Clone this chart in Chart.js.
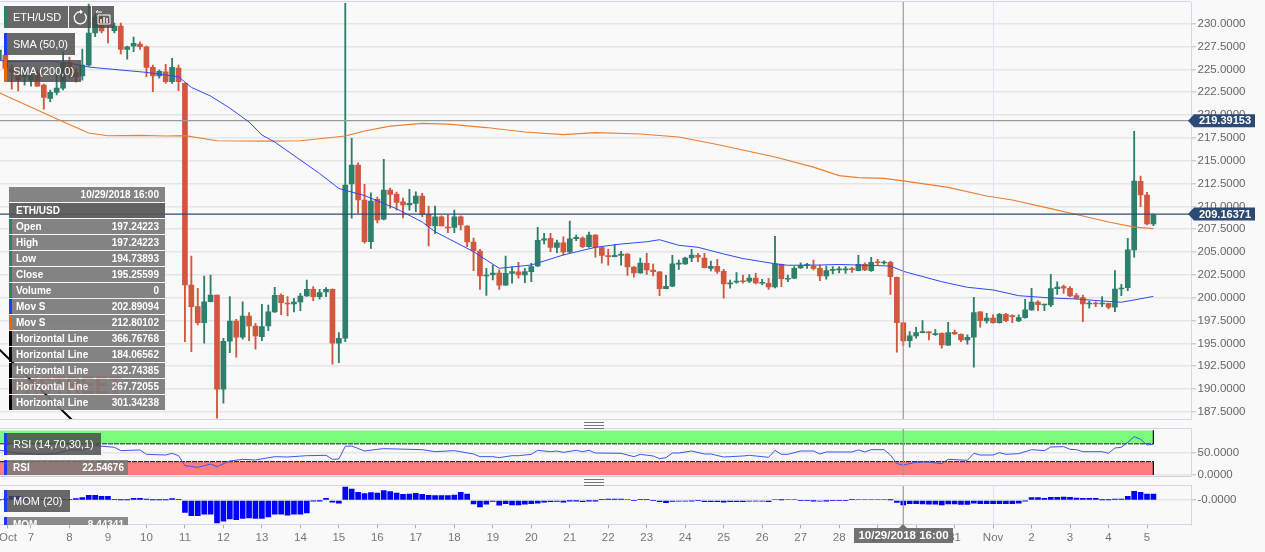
<!DOCTYPE html>
<html>
<head>
<meta charset="utf-8">
<title>ETH/USD</title>
<script src="https://cdn.jsdelivr.net/npm/chart.js@4/dist/chart.umd.min.js"></script>
<style>
  html, body { margin: 0; padding: 0; background: #f9f9f9; overflow: hidden; }
  #wrap { position: relative; width: 1265px; height: 552px; font-family: "Liberation Sans", Arial, sans-serif; color: #fff; }
  canvas { position: absolute; left: 0; }
  .rule { position: absolute; left: 0; width: 1191px; height: 1px; background: #d3d6ea; }
  .grip { position: absolute; left: 584px; width: 20px; height: 5px; border-top: 1px solid #777; border-bottom: 1px solid #777; }
  .grip:after { content: ""; position: absolute; left: 0; right: 0; top: 2px; height: 1px; background: #777; }
  .box { position: absolute; box-sizing: border-box; background: rgba(72,72,72,.82); font-size: 11px; white-space: nowrap; overflow: hidden; border-left: 3px solid #1a3cff; padding-left: 6px; }
  .row { position: absolute; left: 9px; width: 156px; height: 15px; box-sizing: border-box; line-height: 15px; font-size: 10px; font-weight: bold; background: rgba(120,120,120,.92); border-left: 3px solid #2f8069; padding: 0 6px 0 4px; }
  .row b { float: right; }
</style>
</head>
<body>
<div id="wrap">
  <canvas id="mainChart" width="1265" height="420" style="top:0"></canvas>
  <canvas id="rsiChart" width="1265" height="60" style="top:428px"></canvas>
  <canvas id="momChart" width="1265" height="67" style="top:485px"></canvas>
  <div class="rule" style="top:1px"></div>
  <div class="rule" style="top:419px"></div>
  <div class="rule" style="top:428px"></div>
  <div class="rule" style="top:476px;background:#cfcfd6"></div>
  <div class="rule" style="top:485px"></div>
  <div class="rule" style="top:524px"></div>
  <div class="grip" style="top:422px"></div>
  <div class="grip" style="top:479px"></div>
  <div id="overlay"></div>
</div>
<script>
// candles: 4 hour bars, first one sits 5 bars before Oct 7 00:00
const firstBar = -5;
const opens = [
  226.03,226.58,225.15,224.39,224.17,223.84,224.61,223.29,221.84,222.49,
  222.96,225.7,224.72,224.28,225.48,228.99,230.74,230.19,229.24,229.75,
  227.2,227.56,227.78,227.49,225.23,224.28,224.75,223.65,225.15,223.48,
  201.39,199.02,197.26,199.56,200.3,189.97,195.23,197.45,195.67,197.99,
  196.9,195.73,196.9,198.44,200.26,199.39,199.31,199.53,200.19,200.92,
  200.11,200.63,200.92,195.01,195.56,212.45,214.53,210.7,206.13,210.78,
  208.59,211.79,211.36,210.51,210.15,210.34,211.14,209.13,207.85,208.87,
  207.74,207.71,208.87,207.85,206.1,205.12,202.38,202.52,202.71,201.36,
  202.67,202.82,202.49,202.85,203.47,206.29,206.51,205.52,206.02,205.01,
  206.46,206.54,205.59,206.87,205.48,204.6,204.49,204.64,204.79,203.36,
  202.71,203.77,203.03,202.82,200.99,201.25,203.66,203.69,204.35,204.64,
  204.35,203.22,203.44,202.89,201.5,201.69,201.83,201.8,202.16,201.58,
  201.58,201.17,203.66,202.02,202.13,203.25,203.51,203.47,203.22,202.38,
  203.0,203.04,203.04,203.14,202.96,203.66,202.96,203.94,203.8,203.88,
  202.24,197.24,195.29,195.81,196.17,196.25,195.95,196.1,194.79,196.21,
  196.0,195.37,195.67,198.44,197.45,197.78,197.26,198.18,198.0,197.45,
  197.81,198.66,199.53,199.2,199.2,200.99,201.21,201.03,200.22,200.0,
  199.31,199.39,199.31,199.39,198.95,200.95,201.1,205.23,212.75,211.25,208.07
];
const closes = [
  227.13,225.12,224.72,223.84,224.39,224.39,223.18,221.95,222.49,222.96,
  225.7,224.61,224.17,225.48,228.99,230.74,229.21,229.86,229.75,227.2,
  227.49,227.86,227.49,225.23,224.28,224.79,223.65,225.23,223.65,201.39,
  199.02,197.26,199.56,200.3,189.97,195.23,197.45,195.67,197.99,196.9,
  195.81,196.83,198.44,200.26,199.45,199.31,199.53,200.19,200.92,200.11,
  200.55,200.92,195.01,195.56,212.34,214.53,210.7,206.13,210.59,208.51,
  211.79,211.32,210.45,210.15,210.34,211.14,209.13,207.85,208.87,207.85,
  207.63,208.87,207.96,206.1,205.12,202.38,202.49,202.71,201.36,202.67,
  202.85,202.49,202.85,203.4,206.29,206.46,205.52,206.02,205.01,206.46,
  206.62,205.59,206.87,205.52,204.64,204.49,204.64,204.79,203.36,202.71,
  203.8,203.03,202.85,200.99,201.25,203.72,203.8,204.35,204.68,204.43,
  203.29,203.44,202.89,201.5,201.64,201.83,201.75,202.16,201.61,201.64,
  201.17,203.72,202.08,202.13,203.22,203.51,203.58,203.22,202.38,202.96,
  203.07,203.11,203.09,203.07,203.66,203.03,203.88,203.83,203.88,202.3,
  197.26,195.26,195.81,196.17,196.28,196.14,196.03,194.82,196.17,196.03,
  195.37,195.67,198.36,197.48,197.78,197.26,198.18,197.48,197.92,197.81,
  198.66,199.53,199.24,199.28,200.99,201.17,201.03,200.19,199.94,199.31,
  199.39,199.31,199.39,198.95,200.95,201.06,205.23,212.78,211.25,208.07,209.06
];
const highs = [
  227.13,227.13,225.48,224.93,225.15,224.72,224.93,223.4,222.75,224.61,
  226.91,226.36,225.15,227.23,232.16,231.07,231.07,230.63,230.08,230.08,
  227.56,228.55,228.03,227.56,225.48,224.93,225.56,226.22,225.48,223.51,
  204.57,201.03,202.38,202.49,200.3,195.56,200.11,197.64,199.56,198.36,
  197.2,199.28,199.2,201.14,200.41,200.11,199.94,200.48,201.94,201.21,
  200.92,201.1,200.98,196.17,232.24,217.46,214.78,212.42,211.5,211.03,
  215.16,212.01,211.58,210.92,211.87,211.61,211.43,210.04,210.04,208.98,
  209.06,209.6,208.98,207.91,206.54,205.3,203.22,203.58,203.04,204.57,
  203.4,203.88,203.22,203.77,207.71,207.05,207.05,206.32,206.68,208.4,
  206.87,206.68,207.2,206.92,205.55,205.3,205.81,205.08,204.84,203.42,
  204.35,204.86,203.69,202.87,202.45,204.64,204.13,204.46,205.3,204.86,
  204.86,204.02,204.21,203.11,201.94,202.74,202.49,202.52,202.67,202.02,
  202.13,206.72,203.69,202.49,203.4,203.83,203.77,204.13,203.58,203.47,
  203.4,203.4,203.4,203.33,204.64,203.83,204.43,204.21,204.05,204.02,
  202.27,197.24,196.28,196.76,197.48,196.28,196.54,196.14,197.31,196.46,
  196.03,195.92,200.04,198.49,198.29,198.11,198.29,198.29,198.11,198.11,
  199.83,201.03,199.67,199.31,202.56,201.75,201.39,201.21,200.48,200.3,
  199.64,199.56,200.11,199.42,202.96,201.47,206.51,218.22,213.33,211.54,209.17
];
const lows = [
  226.03,224.93,222.85,222.64,223.29,223.18,223.13,220.66,221.46,222.2,
  222.75,224.06,223.62,223.84,225.37,228.58,228.99,227.92,228.99,226.69,
  226.14,226.94,227.2,224.2,222.56,224.06,223.51,223.48,222.67,195.18,
  194.09,197.01,195.01,199.53,186.8,188.44,193.98,193.48,195.45,195.29,
  194.35,195.29,196.39,198.38,198.14,198.0,198.44,198.58,200.13,199.67,
  199.83,200.11,192.71,192.88,195.18,208.7,209.24,205.96,205.41,208.18,
  208.51,209.82,209.6,208.73,209.6,209.42,208.87,205.66,207.05,207.85,
  207.12,207.12,207.42,205.59,202.96,200.92,200.26,201.94,200.92,201.34,
  201.58,202.13,201.64,201.75,203.4,205.88,205.04,204.93,204.68,204.93,
  206.24,205.48,205.52,204.43,203.77,203.55,204.46,203.55,202.45,202.24,
  202.67,202.56,202.38,200.22,200.95,201.22,203.11,203.64,203.94,203.94,
  203.25,202.93,202.67,199.94,201.03,201.58,201.58,201.64,201.5,201.39,
  200.92,201.06,201.21,201.75,202.08,203.22,203.22,203.04,201.86,202.02,
  202.6,202.71,202.67,202.78,202.94,202.96,202.89,203.58,203.66,200.37,
  194.02,194.74,194.57,195.56,196.14,195.37,195.88,194.46,194.77,195.97,
  195.18,194.9,192.38,196.76,197.2,197.2,197.2,197.37,197.26,197.37,
  197.75,198.62,198.58,198.58,199.02,200.37,200.48,200.11,199.83,197.37,
  198.84,199.02,199.02,198.76,198.47,200.22,200.77,204.43,209.97,207.96,207.89
];
const momValues = [
  0.5,2,7,7,3,1,1,1,0.5,0.5,
  1,1,3,5,9,9,7,7,1,0.5,
  0.5,3.5,3.5,2,0.5,0.5,0.5,3,1,-22,
  -28,-28,-25,-25,-41,-38,-34,-35,-33,-32,
  -33,-33,-30,-25,-25,-27,-25,-25,-23,-1,
  -0.3,3.5,-3.6,-5,24,20.6,14.5,12,14,13,
  17.6,16,13,11,11.5,12.7,11,9,8.5,8.5,
  8.5,9.7,14.5,11.5,-6.7,-12,-7,-2,-9,-6,
  -8.5,-8.5,-7,-6,-5,-3.6,-2.4,-2,-3.6,-0.6,
  -0.6,-2.4,-0.6,-0.6,1.8,2.4,2.4,2.4,1.5,0,
  1,1,0,-2.4,-4.2,-2,-1.5,-1.5,-1,0,
  -2.4,-2.4,-2.4,-3.6,-2.4,-2.4,-2.4,-1.8,-1.8,-1.8,
  -2.4,1.5,0.5,1.5,1.5,0,0,-0.6,-1.2,-0.6,
  0,0,0,1,1.5,1.5,1.5,1.5,1.5,0.5,
  -4,-8.44,-6,-6,-6.7,-7,-7,-8.5,-6.7,-6.7,
  -7.3,-7.3,-5,-6,-6,-6,-6,-6,-6,-5,
  -1,5,5,3.6,5.5,5.5,6,5.5,4,3.6,
  3.6,3.6,0.6,0.6,2.4,2.4,7.3,16.4,14.5,11.5,11.5
];

// moving averages, read at the bars where the line bends
const sma50Bars = [-5,-4,3,6,9,18,23,25,28,31,34,36,38,42,45,48,52,57,61,63,69,73,78,83,88,92,96,98,101,104,108,111,116,118,123,126,134,136,142,146,150,154,159,163,167,170,172,175];
const sma50Values = [226.03,225.87,225.92,225.7,225.26,224.68,224.2,223.04,222.09,220.77,219.24,217.82,217.05,215.08,213.6,211.96,211.19,209.74,208.29,207.23,205.04,203.22,203.58,204.68,205.52,205.88,206.13,206.35,205.74,205.52,204.79,204.29,203.72,203.55,203.58,203.64,203.47,202.89,201.75,201.14,200.85,200.22,199.97,199.86,199.64,199.5,199.75,200.15];
const sma200Bars = [-5,2,5,9,12,17,21,24,29,37,42,49,52,56,61,65,71,77,83,88,95,101,107,116,122,126,129,133,136,143,149,153,159,163,168,172,175];
const sma200Values = [222.47,220.23,219.27,218.04,217.74,217.78,217.71,217.75,217.19,217.16,217.19,217.71,218.26,218.8,219.1,219.02,218.64,218.15,217.87,218.09,217.93,217.6,216.78,215.41,214.31,213.38,213.16,213.08,212.8,212.09,211.14,210.7,209.75,209.11,208.29,207.74,207.56];

const rsiBars = [-5,-2,2,4,6,8,10,13,14,17,18,21,22,23,24,26,28,29,31,33,35,38,40,43,46,47,48,49,50,52,54,55,61,63,66,69,70,72,73,75,76,78,79,81,82,83,85,86,87,88,92,94,95,97,98,99,100,101,103,105,106,108,111,112,115,116,117,118,120,122,123,124,126,128,129,130,131,133,134,135,136,138,140,142,143,146,147,148,150,151,152,154,156,158,159,161,162,163,164,167,168,169,170,171,172,173,174,175];
const rsiValues = [56.2,48.7,46.4,48.7,56.2,56.2,65.9,62.2,54.7,56.2,46.4,44.9,48.7,43.4,21,17.2,24.7,18.7,31.5,35.2,33.7,41.2,40.4,43.4,44.2,35.2,36,64.4,65.2,53.9,57.7,59.2,56.9,52.4,54.7,47.2,41.2,41.2,39,43.4,43.4,46.4,55.4,52.4,53.9,50.9,55.4,52.4,55.4,49.4,48.7,41.2,46.4,42.7,36.7,39,49.4,49.4,53.9,47.2,47.2,40.4,42.7,44.2,39.7,55.4,46.4,46.4,53.9,53.9,47.2,51.7,51.7,51.7,56.2,51.7,56.9,56.9,44.9,25.5,22.55,28.5,29.2,25.5,35.2,33,48.7,44.9,44.9,50.2,46.4,47.9,56.9,54.7,62.9,63.7,57.7,56.9,52.4,52.4,48.7,60.7,62.2,73.4,86.1,80.1,67.4,68.9];

const priceTicks = [187.5,190,192.5,195,197.5,200,202.5,205,207.5,210,212.5,215,217.5,220,222.5,225,227.5,230];
const rsiTicks = [0,50];
const momTicks = [0];
const dayBars = [-3.6,0,6,12,18,24,30,36,42,48,54,60,66,72,78,84,90,96,102,108,114,120,126,132,138,144,150,156,162,168,174];
const dayLabels = ['Oct','7','8','9','10','11','12','13','14','15','16','17','18','19','20','21','22','23','24','25','26','27','28','29','30','31','Nov','2','3','4','5'];

const lastPrice = 209.16371;
const prevClose = 219.39153;
const crossBar = 136;
const trendBars = [-5,7];
const trendValues = [194.38,186.2];
const rsiHigh = 70, rsiLow = 30;
const lastBar = 175;

const readoutNames = ['Open','High','Low','Close','Volume','Mov S','Mov S','Horizontal Line','Horizontal Line','Horizontal Line','Horizontal Line','Horizontal Line'];
const readoutValues = ['197.24223','197.24223','194.73893','195.25599','0','202.89094','212.80102','366.76768','184.06562','232.74385','267.72055','301.34238'];
const readoutColors = ['#2f8069','#2f8069','#2f8069','#2f8069','#2f8069','#1a3cff','#e8670a','#000','#000','#000','#000','#000'];

const GREEN = '#2e7f6b', RED = '#d1573f', BLUE = '#2f4bf2', ORANGE = '#e97f33', NAVY = '#2c4a73';
const xMin = -4.833, xMax = 180.86;
const barTimes = opens.map((_, i) => i + firstBar);
const pts = (xs, ys) => xs.map((x, i) => ({ x: x, y: ys[i] }));

function xScale(showLabels) {
  return {
    type: 'linear', min: xMin, max: xMax, offset: false,
    border: { display: false },
    grid: {
      offset: false, drawTicks: showLabels, tickLength: 4, tickColor: '#aab',
      color: ctx => ctx.tick && ctx.tick.value === 150 ? '#dfe1ee' : 'transparent'
    },
    afterBuildTicks: s => { s.ticks = dayBars.map(v => ({ value: v })); },
    afterFit: s => {
      s.paddingLeft = 0; s.paddingRight = 0;
      s.height = showLabels ? 27.7 : 0;
    },
    ticks: {
      display: showLabels, autoSkip: false, maxRotation: 0, padding: 3, color: '#777',
      font: { family: 'Liberation Sans', size: 11.5 },
      callback: (v, i) => dayLabels[i]
    }
  };
}

function yScale(min, max, tickList, label) {
  return {
    position: 'right', min: min, max: max,
    border: { display: true, color: '#d3d6ea' },
    grid: { color: '#e6e6e6', lineWidth: 1.6, tickLength: 5, tickColor: '#b9bbc8', tickWidth: 1 },
    afterBuildTicks: s => { s.ticks = tickList.map(v => ({ value: v })); },
    afterFit: s => { s.width = 74; s.paddingTop = 0; s.paddingBottom = 0; },
    ticks: { color: '#666', padding: 1.5, autoSkip: false, font: { family: 'Liberation Sans', size: 11.5 }, callback: label }
  };
}

function lineSet(data, color, width, order, extra) {
  return Object.assign({ type: 'line', data: data, borderColor: color, borderWidth: width, pointRadius: 0, tension: 0, order: order, fill: false }, extra || {});
}

const baseOptions = { responsive: false, animation: false, devicePixelRatio: 1, events: [], plugins: { legend: { display: false }, tooltip: { enabled: false } } };

// price tags on the right hand axis
const priceTags = {
  id: 'priceTags',
  afterDraw(chart) {
    const c = chart.ctx, y = chart.scales.y;
    [prevClose, lastPrice].forEach(v => {
      const py = y.getPixelForValue(v);
      c.save();
      c.fillStyle = NAVY;
      c.beginPath();
      c.moveTo(1188, py);
      c.lineTo(1194, py - 6.5);
      c.lineTo(1255, py - 6.5);
      c.lineTo(1255, py + 6.5);
      c.lineTo(1194, py + 6.5);
      c.closePath();
      c.fill();
      c.fillStyle = '#fff';
      c.font = 'bold 11px "Liberation Sans"';
      c.textBaseline = 'middle';
      c.fillText(v.toFixed(5), 1199, py + 0.5);
      c.restore();
    });
  }
};

const yMain = [186.68, 232.39];
new Chart(document.getElementById('mainChart'), {
  type: 'bar',
  plugins: [priceTags],
  data: {
    datasets: [
      { data: barTimes.map((t, i) => ({ x: t, y: [lows[i], highs[i]] })), barThickness: 1.2, grouped: false, order: 6,
        backgroundColor: opens.map((o, i) => closes[i] >= o ? GREEN : RED) },
      { data: barTimes.map((t, i) => ({ x: t, y: [opens[i], closes[i]] })), barThickness: 5, grouped: false, minBarLength: 1, order: 5,
        backgroundColor: opens.map((o, i) => closes[i] >= o ? GREEN : RED) },
      lineSet(pts(sma50Bars, sma50Values), BLUE, 1, 2),
      lineSet(pts(sma200Bars, sma200Values), ORANGE, 1.2, 2),
      lineSet(pts(trendBars, trendValues), '#000', 2, 3),
      lineSet(pts([xMin, xMax], [prevClose, prevClose]), '#9a9a9a', 1.3, 4),
      lineSet(pts([xMin, xMax], [lastPrice, lastPrice]), NAVY, 1.3, 1),
      lineSet(pts([crossBar, crossBar], yMain), '#a89595', 1.2, 1)
    ]
  },
  options: Object.assign({}, baseOptions, {
    layout: { autoPadding: false, padding: { top: 2, bottom: 0.7 } },
    scales: { x: xScale(false), y: yScale(yMain[0], yMain[1], priceTicks, v => v.toFixed(4)) }
  })
});

const yRsi = [-1.57, 104];
new Chart(document.getElementById('rsiChart'), {
  type: 'line',
  data: {
    datasets: [
      lineSet(pts([xMin, lastBar], [100, 100]), 'transparent', 0, 6, { fill: { value: rsiHigh }, backgroundColor: '#7dfb7d' }),
      lineSet(pts([xMin, lastBar], [0, 0]), 'transparent', 0, 6, { fill: { value: rsiLow }, backgroundColor: '#ff7d7d' }),
      lineSet(pts([xMin, lastBar], [rsiHigh, rsiHigh]), '#0a2a0a', 1, 5, { borderDash: [5, 1] }),
      lineSet(pts([xMin, lastBar], [rsiLow, rsiLow]), '#1a0a0a', 1, 5, { borderDash: [5, 1] }),
      lineSet(pts([lastBar, lastBar], [100, rsiHigh]), '#0a2a0a', 1, 5),
      lineSet(pts([lastBar, lastBar], [rsiLow, 0]), '#1a0a0a', 1, 5),
      lineSet(pts(rsiBars, rsiValues), '#3f55e8', 1, 2),
      lineSet(pts([crossBar, crossBar], yRsi), '#9a9a9a', 1.2, 1)
    ]
  },
  options: Object.assign({}, baseOptions, {
    layout: { autoPadding: false, padding: { top: 0.7, bottom: 12.3 } },
    scales: { x: xScale(false), y: yScale(yRsi[0], yRsi[1], rsiTicks, v => v.toFixed(4)) }
  })
});

const yMom = [-43.64, 27.27];
new Chart(document.getElementById('momChart'), {
  type: 'bar',
  data: {
    datasets: [
      { data: pts(barTimes, momValues), backgroundColor: '#0000ff', barThickness: 5, grouped: false, order: 3 },
      lineSet(pts([crossBar, crossBar], yMom), '#9a9a9a', 1.2, 1)
    ]
  },
  options: Object.assign({}, baseOptions, {
    layout: { autoPadding: false, padding: { top: 0.3 } },
    scales: { x: xScale(true), y: yScale(yMom[0], yMom[1], momTicks, () => '-0.0000') }
  })
});

// legend boxes and the readout panel sit on top of the charts
const overlay = document.getElementById('overlay');
function addBox(left, top, width, height, html, stripe) {
  const d = document.createElement('div');
  d.className = 'box';
  d.style.cssText = `left:${left}px;top:${top}px;width:${width}px;height:${height}px;line-height:${height}px;border-left-color:${stripe}`;
  d.innerHTML = html;
  overlay.appendChild(d);
  return d;
}
addBox(4, 6, 64, 22, 'ETH/USD', '#2f8069');
addBox(69, 6, 22, 22, '<svg width="22" height="22" style="margin-left:-6px;display:block"><path d="M15.5 7.5a6 6 0 1 1-3-1.6" fill="none" stroke="#fff" stroke-width="1.3"/><path d="M11 3.5l3 2.5-3 2z" fill="#fff"/></svg>', 'transparent').style.borderLeftWidth = '0';
addBox(92, 6, 22, 22, '<svg width="22" height="22" style="margin-left:-6px;display:block"><path d="M6 9h12v9H6z" fill="none" stroke="#fff"/><path d="M9 17v-4M12 17v-6M15 17v-5" stroke="#fff" stroke-width="1.4"/><path d="M4 6h6M4 6l2-2" fill="none" stroke="#fff"/></svg>', 'transparent').style.borderLeftWidth = '0';
addBox(4, 33, 71, 22, 'SMA (50,0)', '#1a3cff');
addBox(4, 60, 77, 22, 'SMA (200,0)', '#e8670a');
addBox(4, 433, 97, 22, 'RSI (14,70,30,1)', '#1a3cff');
addBox(4, 490, 66, 22, 'MOM (20)', '#1a3cff');

function readout(left, top, width, height, name, value) {
  const d = addBox(left, top, width, height, `<b style="font-size:10px">${name}</b><b style="position:absolute;right:4px;font-size:10px">${value}</b>`, '#1a3cff');
  d.style.background = 'rgba(120,120,120,.85)';
  return d;
}
readout(4, 460, 124, 15, 'RSI', '22.54676');
const momBox = readout(4, 517, 124, 7.5, 'MOM', '8.44341');
momBox.style.lineHeight = '15px';

function addRow(top, left, right, color, bg) {
  const d = document.createElement('div');
  d.className = 'row';
  d.style.top = top + 'px';
  d.style.borderLeftColor = color;
  if (bg) d.style.background = bg;
  d.innerHTML = `${left}<b>${right}</b>`;
  overlay.appendChild(d);
}
addRow(187, '', '10/29/2018 16:00', 'transparent', 'rgba(122,122,122,.92)');
addRow(203, 'ETH/USD', '', 'transparent', 'rgba(85,85,85,.92)');
readoutNames.forEach((n, i) => addRow(219 + i * 16, n, readoutValues[i], readoutColors[i]));

// faint watermark, only shows through the readout panel
const mark = document.createElement('div');
mark.textContent = 'FXSTREET';
mark.style.cssText = 'position:absolute;left:12px;top:370px;width:113px;overflow:hidden;font:bold 21px "Liberation Sans";transform:scaleY(1.25);transform-origin:top;color:rgba(150,70,60,.22)';
overlay.appendChild(mark);

// crosshair date on the time axis
const stamp = document.createElement('div');
stamp.textContent = '10/29/2018 16:00';
stamp.style.cssText = 'position:absolute;left:854px;top:528px;width:99px;height:15px;line-height:15px;text-align:center;font-size:11.5px;font-weight:bold;background:rgba(95,95,95,.88)';
overlay.appendChild(stamp);
const notch = document.createElement('div');
notch.style.cssText = 'position:absolute;left:899px;top:524px;width:0;height:0;border:4px solid transparent;border-top:0;border-bottom-color:rgba(95,95,95,.88)';
overlay.appendChild(notch);
</script>
</body>
</html>
